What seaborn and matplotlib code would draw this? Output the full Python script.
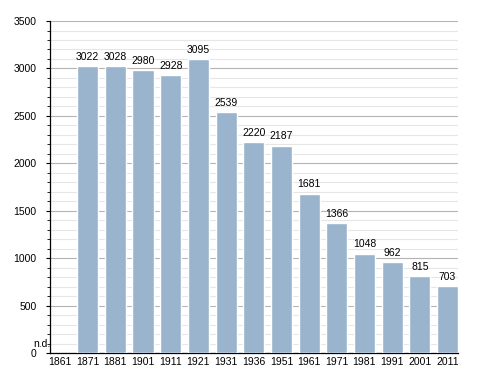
import numpy as np
import pandas as pd
import matplotlib
matplotlib.use('Agg')
import matplotlib.pyplot as plt
import seaborn as sns
from matplotlib.ticker import MultipleLocator

years = ['1861', '1871', '1881', '1901', '1911', '1921', '1931', '1936',
         '1951', '1961', '1971', '1981', '1991', '2001', '2011']
population = [np.nan, 3022, 3028, 2980, 2928, 3095, 2539, 2220,
              2187, 1681, 1366, 1048, 962, 815, 703]

df = pd.DataFrame({'Year': years, 'Population': population})

sns.set_style('white')
plt.rcParams['font.family'] = ['Liberation Sans', 'DejaVu Sans']
plt.rcParams['text.color'] = 'black'
plt.rcParams['xtick.color'] = 'black'
plt.rcParams['ytick.color'] = 'black'

fig = plt.figure(figsize=(4.88, 3.73), dpi=100)
ax = fig.add_axes([0.1025, 0.0536, 0.836, 0.89])

sns.barplot(x='Year', y='Population', data=df, color='#9bb4cd',
            saturation=1, width=0.76, ax=ax, zorder=3)

ax.set_ylim(0, 3500)
ax.set_xlim(-0.36, 14.38)
ax.yaxis.set_major_locator(MultipleLocator(500))
ax.yaxis.set_minor_locator(MultipleLocator(100))
ax.grid(which='major', axis='y', color='#b4b4b4', linewidth=0.8, zorder=0)
ax.grid(which='minor', axis='y', color='#e6e6e6', linewidth=0.8, zorder=0)
ax.set_axisbelow(True)

ax.set_xlabel('')
ax.set_ylabel('')
for s in ['top', 'right']:
    ax.spines[s].set_visible(False)
for s in ['left', 'bottom']:
    ax.spines[s].set_color('black')
    ax.spines[s].set_linewidth(0.9)

ax.tick_params(axis='y', which='major', length=3, width=0.8,
               labelsize=7.5, pad=6.5, left=True)
ax.tick_params(axis='y', which='minor', length=2, width=0.6, left=True)
ax.tick_params(axis='x', length=0, labelsize=7.5, pad=3)

# value labels above bars
for i, v in enumerate(population):
    if np.isnan(v):
        ax.annotate('n.d.', xy=(i, 0), xytext=(-6.5, 3), textcoords='offset points',
                    ha='right', va='bottom', fontsize=7.5, annotation_clip=False)
    else:
        ax.annotate(f'{int(v)}', xy=(i, v), xytext=(0, 3), textcoords='offset points',
                    ha='center', va='bottom', fontsize=7.5)

fig.savefig('out.png', dpi=100)
